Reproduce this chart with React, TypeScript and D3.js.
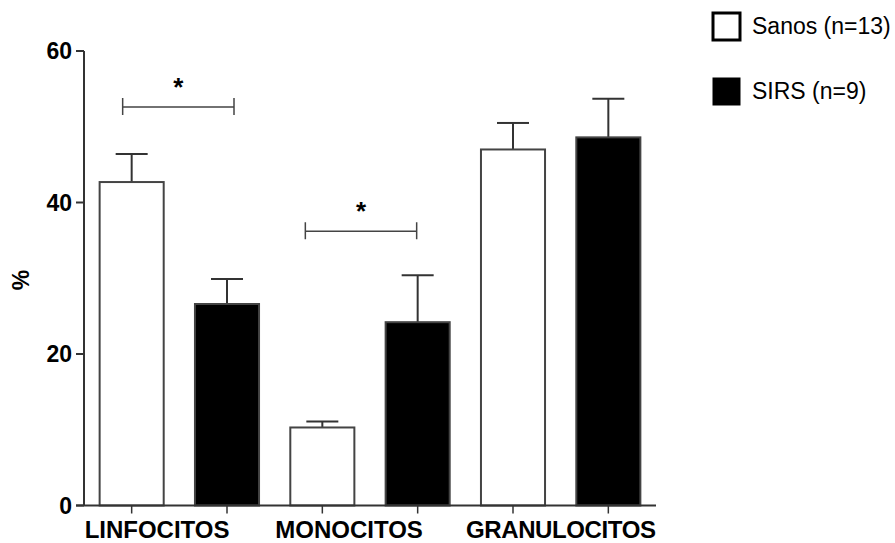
import React, { useEffect, useRef } from 'react';
import * as d3 from 'd3';

// Data
const categories = ['LINFOCITOS', 'MONOCITOS', 'GRANULOCITOS'];
const seriesNames = ['Sanos (n=13)', 'SIRS (n=9)'];
const sanosMean = [42.7, 10.3, 47.0];
const sanosErr = [3.7, 0.8, 3.5];
const sirsMean = [26.6, 24.2, 48.6];
const sirsErr = [3.3, 6.2, 5.1];
const yTicks = [0, 20, 40, 60];
// significance brackets: category index, y level
const brackets = [
  { cat: 0, y: 52.6, dx0: -9, dx1: 7 },
  { cat: 1, y: 36.2, dx0: -17, dx1: -1 },
];

const W = 895;
const H = 543;
const font = 'Arial, "Liberation Sans", sans-serif';

export default function App() {
  const svgRef = useRef<SVGSVGElement>(null);

  useEffect(() => {
    if (!svgRef.current) return;
    const svg = d3.select(svgRef.current);
    svg.selectAll('*').remove();

    const x0 = 84;
    const x1 = 656;
    const yTop = 51;
    const yBot = 505.5;

    // one band per bar (category x series)
    const barKeys: string[] = [];
    categories.forEach((c) => seriesNames.forEach((s) => barKeys.push(c + '|' + s)));
    const x = d3.scaleBand<string>()
      .domain(barKeys)
      .range([x0, x1])
      .paddingInner(0.328)
      .paddingOuter(0.164);

    const y = d3.scaleLinear().domain([0, 60]).range([yBot, yTop]);

    const bars = categories.flatMap((c, i) => [
      { key: c + '|' + seriesNames[0], v: sanosMean[i], e: sanosErr[i], fill: '#fff' },
      { key: c + '|' + seriesNames[1], v: sirsMean[i], e: sirsErr[i], fill: '#000' },
    ]);

    const g = svg.append('g');
    const stroke = '#333';

    // error bars (behind bars)
    bars.forEach((b) => {
      const cx = x(b.key)! + x.bandwidth() / 2;
      g.append('line')
        .attr('x1', cx).attr('x2', cx)
        .attr('y1', y(b.v)).attr('y2', y(b.v + b.e))
        .attr('stroke', stroke).attr('stroke-width', 2);
      g.append('line')
        .attr('x1', cx - 16).attr('x2', cx + 16)
        .attr('y1', y(b.v + b.e)).attr('y2', y(b.v + b.e))
        .attr('stroke', stroke).attr('stroke-width', 2);
    });

    // bars
    g.selectAll('rect.bar')
      .data(bars)
      .join('rect')
      .attr('class', 'bar')
      .attr('x', (d) => x(d.key)!)
      .attr('width', x.bandwidth())
      .attr('y', (d) => y(d.v))
      .attr('height', (d) => yBot - y(d.v))
      .attr('fill', (d) => d.fill)
      .attr('stroke', '#444')
      .attr('stroke-width', 2);

    // y axis
    g.append('line')
      .attr('x1', x0).attr('x2', x0)
      .attr('y1', yTop).attr('y2', yBot)
      .attr('stroke', stroke).attr('stroke-width', 2);
    yTicks.forEach((t) => {
      g.append('line')
        .attr('x1', x0 - 8).attr('x2', x0)
        .attr('y1', y(t)).attr('y2', y(t))
        .attr('stroke', stroke).attr('stroke-width', 2);
      g.append('text')
        .attr('x', 72).attr('y', y(t))
        .attr('dy', '0.36em')
        .attr('text-anchor', 'end')
        .attr('font-family', font)
        .attr('font-weight', 'bold')
        .attr('font-size', 23)
        .text(t);
    });

    // x axis
    g.append('line')
      .attr('x1', x0 - 8).attr('x2', x1)
      .attr('y1', yBot).attr('y2', yBot)
      .attr('stroke', stroke).attr('stroke-width', 2);
    bars.forEach((b) => {
      const cx = x(b.key)! + x.bandwidth() / 2;
      g.append('line')
        .attr('x1', cx).attr('x2', cx)
        .attr('y1', yBot).attr('y2', yBot + 8)
        .attr('stroke', stroke).attr('stroke-width', 1.5);
    });
    categories.forEach((c) => {
      g.append('text')
        .attr('x', x(c + '|' + seriesNames[0])! - 15)
        .attr('y', 538)
        .attr('font-family', font)
        .attr('font-weight', 'bold')
        .attr('font-size', 24)
        .attr('textLength', c === 'GRANULOCITOS' ? 190 : null)
        .text(c);
    });

    // y label
    g.append('text')
      .attr('transform', 'translate(29,280) rotate(-90)')
      .attr('text-anchor', 'middle')
      .attr('font-family', font)
      .attr('font-weight', 'bold')
      .attr('font-size', 23)
      .text('%');

    // significance brackets
    brackets.forEach((br) => {
      const c = categories[br.cat];
      const xa = x(c + '|' + seriesNames[0])! + x.bandwidth() / 2 + br.dx0;
      const xb = x(c + '|' + seriesNames[1])! + x.bandwidth() / 2 + br.dx1;
      const yy = y(br.y);
      g.append('path')
        .attr('d', `M${xa},${yy - 9}V${yy + 8}M${xa},${yy}H${xb}M${xb},${yy - 9}V${yy + 8}`)
        .attr('fill', 'none')
        .attr('stroke', '#444')
        .attr('stroke-width', 1.5);
      g.append('text')
        .attr('x', (xa + xb) / 2)
        .attr('y', yy - 11)
        .attr('text-anchor', 'middle')
        .attr('font-family', font)
        .attr('font-weight', 'bold')
        .attr('font-size', 26)
        .text('*');
    });

    // legend
    const legend = svg.append('g');
    seriesNames.forEach((s, i) => {
      const ly = 12 + i * 65;
      legend.append('rect')
        .attr('x', 713).attr('y', ly + 1)
        .attr('width', 27).attr('height', 27)
        .attr('fill', i === 0 ? '#fff' : '#000')
        .attr('stroke', '#000')
        .attr('stroke-width', i === 0 ? 3 : 1);
      legend.append('text')
        .attr('x', 752).attr('y', ly + 22)
        .attr('font-family', font)
        .attr('font-size', 23)
        .text(s);
    });
  }, []);

  return (
    <svg
      ref={svgRef}
      width={W}
      height={H}
      style={{ position: 'absolute', left: 0, top: 0, background: '#fff' }}
    />
  );
}
